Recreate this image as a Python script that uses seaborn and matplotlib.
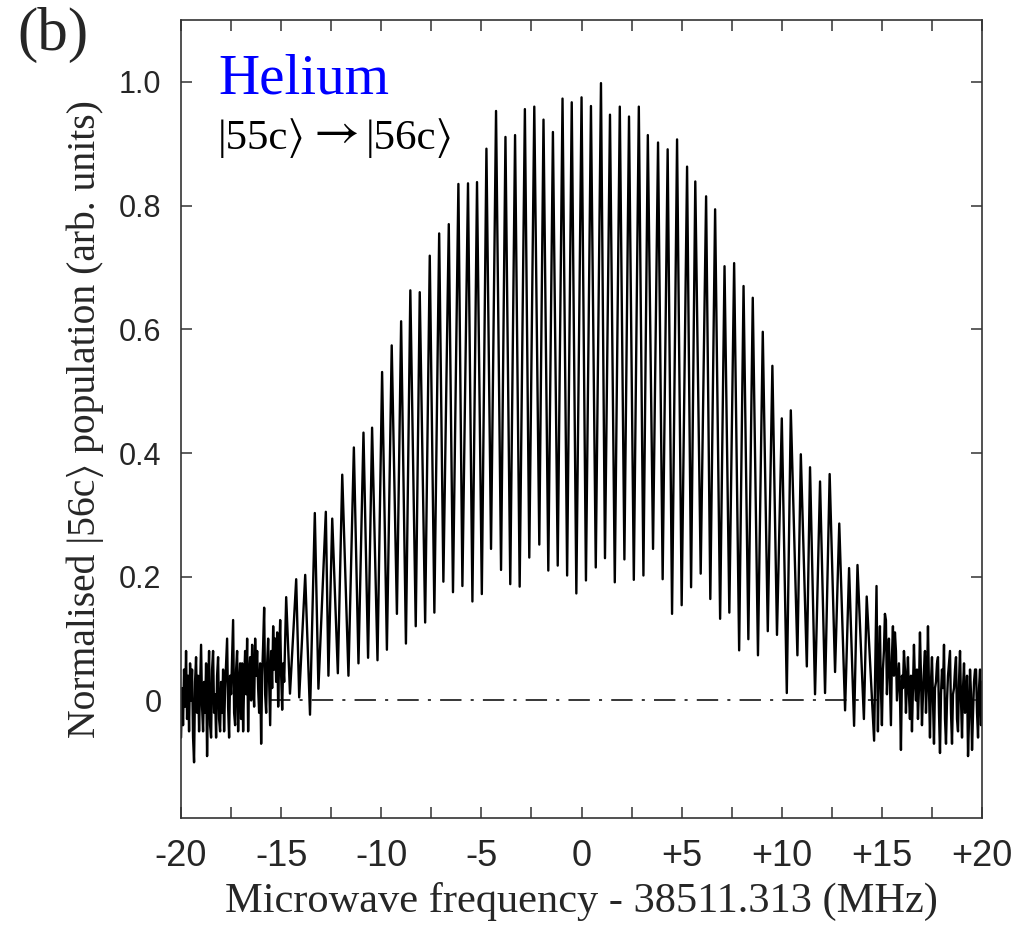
import numpy as np
import pandas as pd
import seaborn as sns
import matplotlib.pyplot as plt
from matplotlib.ticker import FixedLocator

# peaks of the fringes (MHz offset, population)
peak_freq = [-14.75, -14.25, -13.80, -13.32, -12.77, -12.45, -11.95, -11.37, -10.89, -10.46,
             -9.96, -9.48, -9.01, -8.55, -8.08, -7.58, -7.11, -6.63, -6.15, -5.67,
             -5.22, -4.75, -4.27, -3.80, -3.32, -2.83, -2.36, -1.90, -1.43, -0.95,
             -0.49, 0.00, 0.47, 0.97, 1.42, 1.91, 2.37, 2.86, 3.31, 3.82,
             4.30, 4.77, 5.27, 5.68, 6.22, 6.67, 7.14, 7.62, 8.09, 8.55,
             9.05, 9.53, 10.00, 10.45, 10.95, 11.41, 11.91, 12.39, 12.87, 13.36,
             13.78, 14.24, 14.73]
peak_val = [0.167, 0.196, 0.203, 0.303, 0.305, 0.294, 0.365, 0.409, 0.433, 0.441,
            0.531, 0.574, 0.613, 0.663, 0.660, 0.719, 0.755, 0.770, 0.835, 0.836,
            0.838, 0.892, 0.953, 0.911, 0.914, 0.956, 0.960, 0.939, 0.919, 0.973,
            0.967, 0.975, 0.961, 0.998, 0.947, 0.960, 0.944, 0.960, 0.914, 0.902,
            0.891, 0.907, 0.863, 0.839, 0.815, 0.794, 0.702, 0.707, 0.670, 0.651,
            0.596, 0.541, 0.456, 0.469, 0.398, 0.377, 0.354, 0.366, 0.286, 0.214,
            0.219, 0.168, 0.185]

# troughs between the fringes
trough_freq = [-14.56, -14.10, -13.56, -13.14, -12.64, -12.17, -11.64, -11.14, -10.66, -10.19,
               -9.72, -9.22, -8.77, -8.28, -7.81, -7.35, -6.90, -6.42, -5.95, -5.45,
               -4.98, -4.52, -4.02, -3.56, -3.09, -2.61, -2.11, -1.66, -1.19, -0.72,
               -0.26, 0.22, 0.71, 1.17, 1.66, 2.14, 2.61, 3.09, 3.57, 4.05,
               4.52, 5.00, 5.47, 5.95, 6.43, 6.92, 7.38, 7.87, 8.33, 8.81,
               9.30, 9.76, 10.25, 10.78, 11.25, 11.66, 12.16, 12.66, 13.16, 13.61,
               14.10, 14.61]
trough_val = [0.011, 0.005, -0.023, 0.019, 0.040, 0.044, 0.040, 0.060, 0.069, 0.065,
              0.082, 0.140, 0.092, 0.120, 0.126, 0.142, 0.192, 0.175, 0.185, 0.160,
              0.172, 0.245, 0.211, 0.188, 0.184, 0.231, 0.252, 0.210, 0.218, 0.202,
              0.173, 0.194, 0.215, 0.230, 0.191, 0.228, 0.195, 0.202, 0.245, 0.196,
              0.140, 0.154, 0.183, 0.205, 0.164, 0.132, 0.142, 0.081, 0.099, 0.073,
              0.112, 0.106, 0.012, 0.073, 0.055, 0.010, 0.012, 0.046, -0.016, -0.041,
              -0.030, -0.065]

# noisy wings, 0.05 MHz scan steps
left_noise = [-0.06, 0.02, -0.04, 0.05, -0.01, 0.08, -0.03, 0.04, -0.05, 0.06,
              0.00, 0.05, -0.06, -0.10, 0.03, 0.07, -0.02, 0.04, -0.05, 0.02,
              0.09, -0.01, -0.05, 0.03, -0.02, 0.06, -0.09, 0.02, 0.08, -0.04,
              -0.06, 0.05, 0.08, -0.02, 0.01, -0.06, 0.04, 0.07, -0.03, -0.05,
              0.03, -0.02, 0.05, -0.05, 0.02, 0.06, 0.10, -0.01, -0.06, 0.04,
              0.01, 0.07, 0.13, -0.02, -0.04, 0.05, 0.08, -0.05, 0.02, 0.06,
              -0.03, 0.06, -0.05, 0.03, 0.08, 0.01, 0.10, -0.05, 0.04, 0.07,
              0.00, 0.09, 0.03, -0.01, 0.10, 0.04, 0.08, 0.02, -0.02, 0.06,
              -0.07, 0.04, 0.09, 0.15, 0.01, -0.02, 0.06, 0.10, 0.03, -0.04,
              0.08, 0.02, 0.12, 0.05, 0.10, 0.03, 0.11, -0.01, 0.07, 0.13,
              0.04, -0.015, 0.06, 0.03]
right_noise = [-0.05, 0.06, 0.12, 0.02, -0.04, 0.05, 0.08, 0.14, 0.13, 0.01,
               0.06, 0.10, 0.03, -0.04, 0.07, 0.12, 0.04, 0.11, 0.08, 0.00,
               0.03, 0.06, 0.01, -0.08, 0.04, 0.02, 0.08, 0.05, -0.02, 0.03,
               0.07, 0.01, -0.03, 0.04, -0.05, 0.02, 0.09, 0.03, 0.00, 0.05,
               -0.03, 0.02, 0.11, 0.04, -0.04, 0.01, 0.05, 0.08, -0.02, 0.03,
               0.12, 0.02, -0.06, 0.03, 0.07, 0.00, -0.07, 0.02, 0.03, 0.06,
               0.07, -0.02, -0.085, 0.01, 0.05, 0.02, 0.09, -0.03, -0.07, 0.00,
               0.04, 0.06, 0.08, -0.02, -0.07, 0.01, 0.02, 0.05, 0.07, -0.03,
               -0.05, 0.03, 0.08, 0.00, -0.06, 0.02, 0.06, -0.02, -0.01, 0.04,
               -0.09, -0.03, 0.05, 0.01, -0.08, -0.02, 0.03, 0.05, 0.05, -0.02,
               -0.06, 0.02, 0.05, -0.04, 0.03]
left_freq = np.linspace(-20.0, -14.85, len(left_noise))
right_freq = np.linspace(14.8, 20.0, len(right_noise))

df = pd.DataFrame({
    "freq": np.concatenate([left_freq, peak_freq, trough_freq, right_freq]),
    "pop": np.concatenate([left_noise, peak_val, trough_val, right_noise]),
}).sort_values("freq")

sns.set_style("ticks")
plt.rcParams["font.family"] = ["Liberation Serif", "STIXGeneral", "DejaVu Serif"]

fig = plt.figure(figsize=(10.12, 9.27), dpi=100)
ax = fig.add_axes([0.1789, 0.1176, 0.7915, 0.8608])

sns.lineplot(data=df, x="freq", y="pop", ax=ax, color="black", lw=1.7,
             estimator=None, sort=True)
ax.plot([-15.6, 14.8], [0, 0], color="black", lw=1.1, ls=(0, (14, 6, 2, 6)))

ax.set_xlim(-20, 20)
ax.set_ylim(-0.19, 1.1)

xt = [-20, -15, -10, -5, 0, 5, 10, 15, 20]
xt_labels = ["-20", "-15", "-10", "-5", "0", "+5", "+10", "+15", "+20"]
ax.set_xticks(xt)
ax.set_xticklabels(xt_labels, family=["Liberation Sans Narrow", "Liberation Sans"], fontsize=26)
ax.xaxis.set_minor_locator(FixedLocator([-17.5, -12.5, -7.5, -2.5, 2.5, 7.5, 12.5, 17.5]))
yt = [0, 0.2, 0.4, 0.6, 0.8, 1.0]
ax.set_yticks(yt)
ax.set_yticklabels(["0", "0.2", "0.4", "0.6", "0.8", "1.0"], family="Liberation Sans", fontsize=22)

for which in ("major", "minor"):
    ax.tick_params(axis="both", which=which, direction="in", top=True, right=True,
                   length=8, width=1.1, color="#333333")
ax.tick_params(axis="x", pad=15)
ax.tick_params(axis="y", pad=14)
for s in ax.spines.values():
    s.set_visible(True)
    s.set_linewidth(1.2)
    s.set_color("#333333")

ax.set_xlabel("Microwave frequency - 38511.313 (MHz)", fontsize=30.5, labelpad=6)
ax.set_ylabel("Normalised |56c\u27e9 population (arb. units)", fontsize=28.5, labelpad=11)

ax.text(-18.15, 0.982, "Helium", color="#0000ff", fontsize=41, va="baseline")
ax.text(-18.15, 0.892, "|55c\u27e9", color="black", fontsize=31, va="baseline")
ax.text(-13.4, 0.897, "\u2192", color="black", fontsize=36, va="baseline",
        family="STIXGeneral")
ax.text(-10.8, 0.892, "|56c\u27e9", color="black", fontsize=31, va="baseline")
fig.text(0.017, 0.993, "(b)", fontsize=44, va="top", ha="left")

fig.savefig("out.png", dpi=100)
